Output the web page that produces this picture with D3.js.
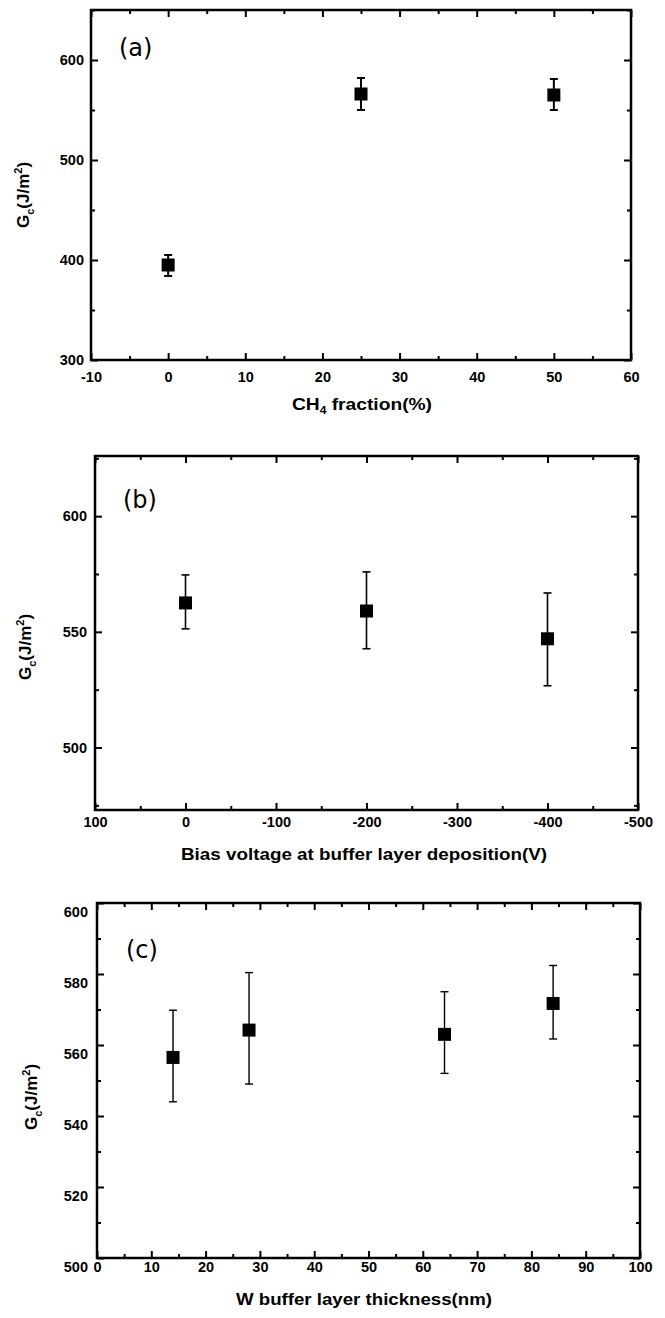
<!DOCTYPE html>
<html>
<head>
<meta charset="utf-8">
<script src="https://cdn.jsdelivr.net/npm/d3@7"></script>
<style>
  body { margin: 0; background: #fff; }
</style>
</head>
<body>
<svg id="fig" width="665" height="1318"></svg>
<script>
// panel (a) : CH4 fraction
const ch4 = [0, 25, 50]
const gcA = [395, 566, 565]
const gcA_lo = [384, 550, 550]
const gcA_hi = [405, 582, 581]

// panel (b) : bias voltage
const bias = [0, -200, -400]
const gcB = [562.5, 559, 547]
const gcB_lo = [551.3, 542.7, 526.7]
const gcB_hi = [574.6, 575.9, 566.8]

// panel (c) : W buffer thickness
const thick = [14, 28, 64, 84]
const gcC = [556.5, 564.2, 563, 571.7]
const gcC_lo = [544, 549, 552, 561.7]
const gcC_hi = [569.8, 580.4, 575, 582.4]

// tick labels
const xTicksA = [-10, 0, 10, 20, 30, 40, 50, 60]
const yTicksA = [300, 400, 500, 600]
const xTicksB = [100, 0, -100, -200, -300, -400, -500]
const yTicksB = [500, 550, 600]
const xTicksC = [0, 10, 20, 30, 40, 50, 60, 70, 80, 90, 100]
const yTicksC = [500, 520, 540, 560, 580, 600]

const svg = d3.select("#fig")
const font = "'Liberation Sans', Arial, sans-serif"
const plain = d => String(d)   // hyphen minus like the original

function panel(p) {
    const x = d3.scaleLinear().domain(p.xd).range([p.left, p.right])
    const y = d3.scaleLinear().domain(p.yd).range([p.bottom, p.top])
    const g = svg.append("g")

    // minor ticks, all four sides
    const minor = (axis, sc, vals, tr) => {
        g.append("g").attr("transform", tr)
          .call(axis(sc).tickValues(vals).tickSize(-4).tickFormat(""))
          .call(a => a.select(".domain").remove())
          .selectAll("line").attr("stroke-width", 1.5)
    }
    minor(d3.axisBottom, x, p.xMinor, `translate(0,${p.bottom})`)
    minor(d3.axisTop, x, p.xMinor, `translate(0,${p.top})`)
    minor(d3.axisLeft, y, p.yMinor, `translate(${p.left},0)`)
    minor(d3.axisRight, y, p.yMinor, `translate(${p.right},0)`)

    // major ticks
    const bx = g.append("g").attr("transform", `translate(0,${p.bottom})`)
      .call(d3.axisBottom(x).tickValues(p.xTicks).tickSize(-7).tickPadding(p.xPad).tickFormat(plain))
    const ly = g.append("g").attr("transform", `translate(${p.left},0)`)
      .call(d3.axisLeft(y).tickValues(p.yTicks).tickSize(-7).tickPadding(p.yPad).tickFormat(plain))
    g.append("g").attr("transform", `translate(0,${p.top})`)
      .call(d3.axisTop(x).tickValues(p.xTicks).tickSize(-7).tickFormat(""))
    g.append("g").attr("transform", `translate(${p.right},0)`)
      .call(d3.axisRight(y).tickValues(p.yTicks).tickSize(-7).tickFormat(""))

    g.selectAll(".domain").remove()
    g.selectAll(".tick line").attr("stroke", "#000").attr("stroke-width", 2)
    ;[bx, ly].forEach(a => a.attr("font-size", null).selectAll("text")
        .attr("font-family", font).style("font-size", "14.5px")
        .attr("font-weight", "bold").attr("fill", "#000"))
    ly.selectAll("text").attr("y", p.yLabShift || 0)

    // frame
    g.append("rect")
      .attr("x", p.left).attr("y", p.top)
      .attr("width", p.right - p.left).attr("height", p.bottom - p.top)
      .attr("fill", "none").attr("stroke", "#000").attr("stroke-width", 2.5)

    // error bars
    const pts = p.xs.map((v, i) => ({x: v, y: p.ys[i], lo: p.lo[i], hi: p.hi[i]}))
    const eb = g.selectAll(".eb").data(pts).join("g").attr("class", "eb")
      .attr("stroke", "#000").attr("stroke-width", p.ebw)
    eb.append("line")
      .attr("x1", d => x(d.x)).attr("x2", d => x(d.x))
      .attr("y1", d => y(d.lo)).attr("y2", d => y(d.hi))
    eb.append("line")
      .attr("x1", d => x(d.x) - 4).attr("x2", d => x(d.x) + 4)
      .attr("y1", d => y(d.lo)).attr("y2", d => y(d.lo))
    eb.append("line")
      .attr("x1", d => x(d.x) - 4).attr("x2", d => x(d.x) + 4)
      .attr("y1", d => y(d.hi)).attr("y2", d => y(d.hi))

    // square markers
    const s = 13
    g.selectAll(".pt").data(pts).join("rect").attr("class", "pt")
      .attr("x", d => x(d.x) - s / 2).attr("y", d => y(d.y) - s / 2)
      .attr("width", s).attr("height", s).attr("fill", "#000")

    // panel letter
    g.append("text").attr("x", p.tag[1]).attr("y", p.tag[2])
      .attr("font-family", "'DejaVu Sans', Verdana, sans-serif")
      .attr("font-size", 24).attr("fill", "#000").text(p.tag[0])

    // x title
    const xt = g.append("text").attr("x", p.xTitle[1]).attr("y", p.xTitle[2])
      .attr("text-anchor", "middle").attr("font-family", font)
      .attr("font-size", 16).attr("font-weight", "bold")
      .attr("textLength", p.xTitle[3]).attr("lengthAdjust", "spacingAndGlyphs")
    p.xTitle[0].forEach(t => xt.append("tspan").attr("dy", t.dy || null)
      .attr("font-size", t.fs || null).text(t.s))

    // y title  Gc(J/m2)
    const yt = g.append("text")
      .attr("transform", `translate(${p.yTitle[0]},${p.yTitle[1]}) rotate(-90)`)
      .attr("text-anchor", "middle").attr("font-family", font)
      .attr("font-size", 17).attr("font-weight", "bold")
    yt.append("tspan").text("G")
    yt.append("tspan").attr("font-size", 11).attr("dy", 5).text("c")
    yt.append("tspan").attr("dy", -5).text("(J/m")
    yt.append("tspan").attr("font-size", 11).attr("dy", -7).text("2")
    yt.append("tspan").attr("dy", 7).text(")")
}

panel({
    xd: [-10, 60], yd: [300, 650], left: 91, right: 631, top: 10, bottom: 360,
    xTicks: xTicksA, yTicks: yTicksA,
    xMinor: d3.range(-5, 60, 10), yMinor: [350, 450, 550, 650],
    xPad: 12, yPad: 7,
    xs: ch4, ys: gcA, lo: gcA_lo, hi: gcA_hi, ebw: 2,
    tag: ["(a)", 119, 56],
    xTitle: [[{s: "CH"}, {s: "4", fs: 10, dy: 4}, {s: " fraction(%)", dy: -4}], 362, 410, 140],
    yTitle: [29, 195]
})

panel({
    xd: [100, -500], yd: [473, 626], left: 95, right: 638, top: 456, bottom: 810,
    xTicks: xTicksB, yTicks: yTicksB,
    xMinor: d3.range(50, -500, -100), yMinor: [475, 525, 575, 625],
    xPad: 7, yPad: 8,
    xs: bias, ys: gcB, lo: gcB_lo, hi: gcB_hi, ebw: 1.6,
    tag: ["(b)", 123, 508],
    xTitle: [[{s: "Bias voltage at buffer layer deposition(V)"}], 364, 860, 366],
    yTitle: [31, 647]
})

panel({
    xd: [0, 100], yd: [500, 600], left: 97, right: 640, top: 903, bottom: 1258,
    xTicks: xTicksC, yTicks: yTicksC,
    xMinor: d3.range(5, 100, 10), yMinor: d3.range(510, 600, 20),
    xPad: 4, yPad: 9, yLabShift: 9,
    xs: thick, ys: gcC, lo: gcC_lo, hi: gcC_hi, ebw: 1.4,
    tag: ["(c)", 126, 958],
    xTitle: [[{s: "W buffer layer thickness(nm)"}], 364, 1305, 256],
    yTitle: [37, 1097]
})
</script>
</body>
</html>
